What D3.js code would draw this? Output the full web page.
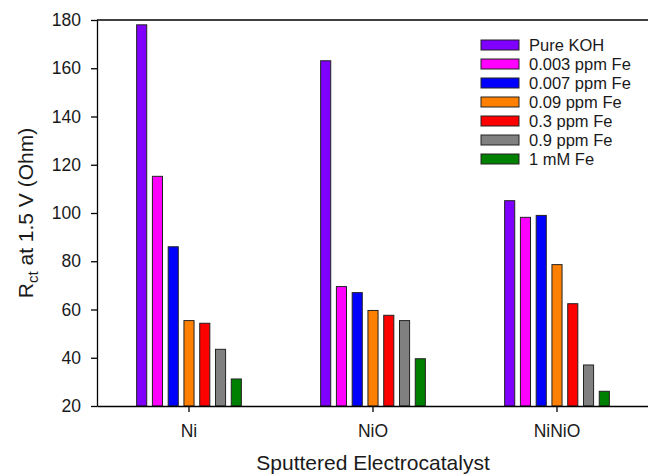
<!DOCTYPE html>
<html>
<head>
<meta charset="utf-8">
<script src="https://d3js.org/d3.v7.min.js"></script>
<style>
  body { margin: 0; background: #fff; }
  text { font-family: "Liberation Sans", Arial, sans-serif; fill: #1a1a1a; }
  .axis path, .axis line { stroke: #000; stroke-width: 1.3; }
  .axis text { font-size: 17.5px; }
  .axeslabel { font-size: 21px; }
  .legend text { font-size: 16.5px; }
</style>
</head>
<body>
<script>
var categories = ["Ni", "NiO", "NiNiO"];
var seriesNames = ["Pure KOH", "0.003 ppm Fe", "0.007 ppm Fe", "0.09 ppm Fe", "0.3 ppm Fe", "0.9 ppm Fe", "1 mM Fe"];
var seriesColors = ["#7f00ff", "#ff00ff", "#0000ff", "#ff8000", "#ff0000", "#808080", "#008000"];
// one array per category, in series order
var valuesNi    = [178, 115.2, 86, 55.4, 54.3, 43.5, 31.2];
var valuesNiO   = [163.1, 69.5, 67, 59.6, 57.6, 55.4, 39.6];
var valuesNiNiO = [105.1, 98.2, 99, 78.6, 62.4, 37, 26.1];
var yTicks = [20, 40, 60, 80, 100, 120, 140, 160, 180];

var margin = {top: 20, right: -1, bottom: 69, left: 97}
  , width = 648 - margin.left - margin.right
  , height = 475 - margin.top - margin.bottom;

var data = [];
[valuesNi, valuesNiO, valuesNiNiO].forEach(function(vals, i) {
  vals.forEach(function(v, j) {
    data.push({cat: categories[i], s: j, value: v});
  });
});

var svg = d3.select("body").append("svg")
    .attr("width", 648)
    .attr("height", 475)
    .append("g")
      .attr("transform", "translate(" + margin.left + "," + margin.top + ")");

var xScale = d3.scaleBand()
    .domain(categories)
    .range([0, width])
    .paddingInner(0)
    .paddingOuter(0);

var xInner = d3.scaleBand()
    .domain(d3.range(seriesNames.length))
    .range([xScale.bandwidth() * 0.2, xScale.bandwidth() * 0.8])
    .paddingInner(0.36)
    .paddingOuter(0.18);

var yScale = d3.scaleLinear()
    .domain([20, 180])
    .range([height, 0]);

// bars
svg.append("g").selectAll("rect")
  .data(data).enter()
  .append("rect")
    .attr("x", function(d) { return xScale(d.cat) + xInner(d.s); })
    .attr("y", function(d) { return yScale(d.value); })
    .attr("width", xInner.bandwidth())
    .attr("height", function(d) { return height - yScale(d.value); })
    .attr("fill", function(d) { return seriesColors[d.s]; })
    .attr("stroke", "#222")
    .attr("stroke-width", 1);

// axes
svg.append("g")
    .attr("class", "x axis")
    .attr("transform", "translate(0," + height + ")")
    .call(d3.axisBottom(xScale).tickSize(6).tickSizeOuter(0).tickPadding(13));

svg.append("g")
    .attr("class", "y axis")
    .call(d3.axisLeft(yScale).tickValues(yTicks).tickSize(6).tickSizeOuter(0).tickPadding(10));

// top frame line
svg.append("line")
    .attr("x1", 0).attr("x2", width)
    .attr("y1", 0).attr("y2", 0)
    .attr("stroke", "#000")
    .attr("stroke-width", 1.3);

// Labels
svg.append("text")
    .attr("class", "axeslabel")
    .attr("x", width / 2)
    .attr("y", height + 64)
    .style("text-anchor", "middle")
    .text("Sputtered Electrocatalyst");

var ylab = svg.append("text")
    .attr("class", "axeslabel")
    .attr("transform", "rotate(-90)")
    .attr("x", 0 - (height / 2))
    .attr("y", -64)
    .style("text-anchor", "middle");
ylab.append("tspan").text("R");
ylab.append("tspan").attr("font-size", "15px").attr("dy", 5).text("ct");
ylab.append("tspan").attr("dy", -5).text(" at 1.5 V (Ohm)");

// legend
var legend = svg.append("g")
    .attr("class", "legend")
    .attr("transform", "translate(" + (481 - margin.left) + "," + (40 - margin.top) + ")");

var item = legend.selectAll("g")
  .data(seriesNames).enter()
  .append("g")
    .attr("transform", function(d, i) { return "translate(0," + (i * 19) + ")"; });

item.append("rect")
    .attr("width", 38)
    .attr("height", 10)
    .attr("fill", function(d, i) { return seriesColors[i]; })
    .attr("stroke", "#222")
    .attr("stroke-width", 1);

item.append("text")
    .attr("x", 48)
    .attr("y", 10.5)
    .text(function(d) { return d; });
</script>
</body>
</html>
